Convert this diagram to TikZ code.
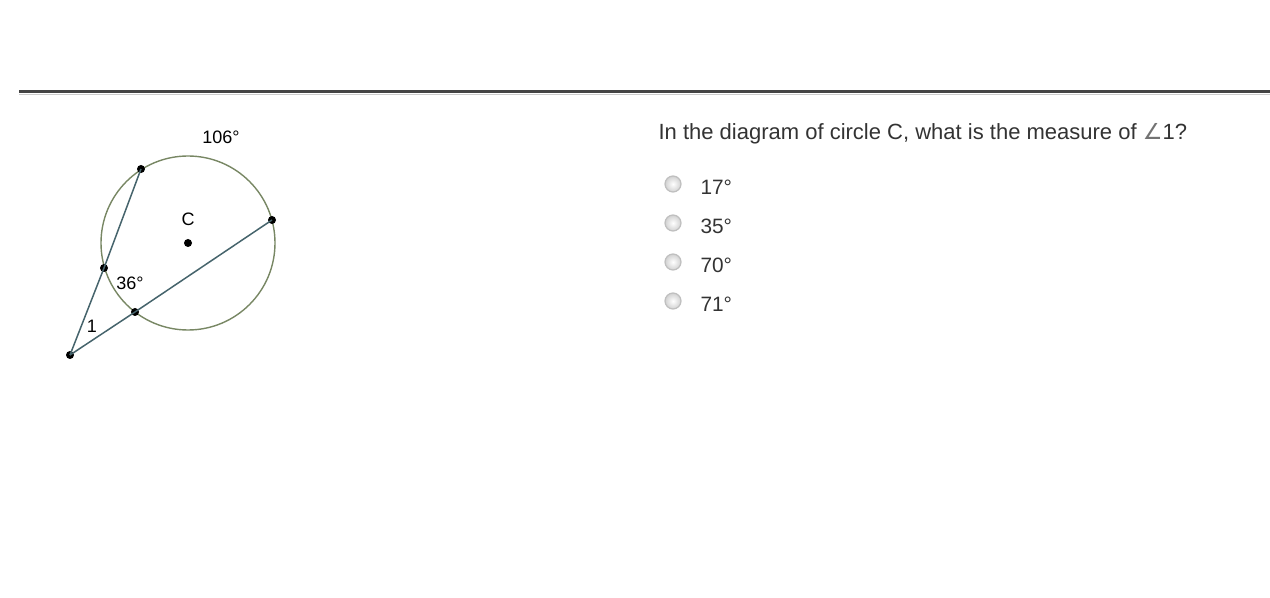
\documentclass[tikz,border=0pt]{standalone}
\usepackage{fontspec}
\setmainfont{Liberation Sans}
\newfontfamily\symfont{DejaVu Sans}
\usetikzlibrary{positioning}
\definecolor{rimcol}{RGB}{120,135,100}
\definecolor{segcol}{RGB}{70,100,108}
\definecolor{rulecol}{RGB}{68,68,68}
\definecolor{textcol}{RGB}{51,51,51}
\tikzset{
  dot/.style={circle, fill=black, inner sep=0pt, minimum size=4pt},
  lbl/.style={font=\fontsize{9}{10}\selectfont, text=black, inner sep=1pt},
  qtext/.style={font=\fontsize{10.4}{12}\selectfont, text=textcol, inner sep=0pt, anchor=west},
  radio/.style={circle, draw=black!25, inner color=white, outer color=black!18, minimum size=8pt, inner sep=0pt},
  seg/.style={segcol, line width=0.75pt}
}
\begin{document}
\begin{tikzpicture}[x=0.5pt, y=-0.5pt, semithick]
        \useasboundingbox (0, 0) rectangle (1270, 598);
        % top rule
        \draw[line width=1.5pt, rulecol] (19, 92) -- (1270, 92);
        \draw[line width=0.5pt, black!20] (19, 94.2) -- (1270, 94.2);

        % circle C and its points
        \node[dot] (c) at (188, 243) {};
        \draw[rimcol, line width=0.7pt] (c.center) circle[radius=87];
        \node[dot] (a) at (141, 169) {};
        \node[dot] (b) at (272, 220) {};
        \node[dot] (d) at (104, 268) {};
        \node[dot] (e) at (135, 312) {};
        \node[dot] (p) at (70, 355) {};
        \draw[seg] (p.center) -- (d.center);
        \draw[seg] (d.center) -- (a.center);
        \draw[seg] (p.center) -- (e.center);
        \draw[seg] (e.center) -- (b.center);

        \node[lbl] (arc) at (221, 137) {106°};
        \node[lbl, above=5pt of c] (cname) {C};
        \node[lbl] (ang) at (130, 283) {36°};
        \node[lbl] (one) at (92, 326) {1};

        % question and choices
        \node[qtext, font=\fontsize{11}{13}\selectfont] (q) at (658, 134) {In the diagram of circle C, what is the measure of {\symfont\color{black!55}∠}1?};
        \node[radio] (r1) at (673, 184) {};
        \node[radio] (r2) at (673, 223) {};
        \node[radio] (r3) at (673, 262) {};
        \node[radio] (r4) at (673, 301) {};
        \node[qtext] (o1) at (700, 187) {17°};
        \node[qtext] (o2) at (700, 226) {35°};
        \node[qtext] (o3) at (700, 265) {70°};
        \node[qtext] (o4) at (700, 304) {71°};
    \end{tikzpicture}
\end{document}
